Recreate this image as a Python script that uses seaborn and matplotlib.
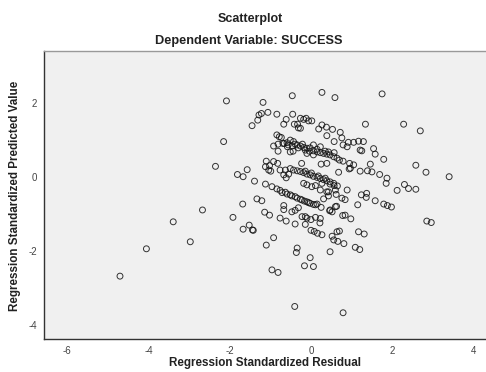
import matplotlib
matplotlib.use("Agg")
import matplotlib.pyplot as plt
import seaborn as sns
import pandas as pd
import numpy as np

# standardized residual / standardized predicted value
resid = [
    -2.08, -1.18, -2.15, -2.35, -1.81, -1.67, -1.57, -1.39, -2.67, -1.92,
    -1.68, -2.97, -1.33, -1.21, -1.14, -1.02, -1.52, -1.67, -1.44, -1.42,
    -0.92, -1.10, -0.96, -0.81, -0.40, 0.79, 0.47, -0.02, -0.16, 0.06,
    -0.34, -0.36, 1.09, 1.20, 2.85, 2.96, 3.40, 2.69, 2.28, 1.75,
    0.59, 0.27, -0.46, 1.34, 2.58, 2.83, 2.12, 2.30, 2.40, 2.58,
    1.79, 1.54, 1.58, 1.87, 1.85, 1.69, 1.46, 1.39, 1.50, 1.21,
    0.97, 0.68, 1.79, 1.88, 1.98, 1.58, 1.24, 1.37, 1.36, 1.15,
    0.89, 0.76, 0.84, 0.63, 0.47, 0.52, 0.78, 0.84, 0.98, 1.17,
    1.31, 0.70, 0.52, 0.56, 0.66, 0.81, 0.47, 0.57, 0.65, 0.62,
    0.43, 0.43, 0.60, 0.27,
    -1.06, -1.22, -1.28, -0.84, -0.45, -1.31, -1.45, -0.67, -0.61, -0.41,
    -0.33, -0.31, -0.26, -0.18, -0.12, -0.06, 0.02, -0.26, 0.19, 0.27,
    0.38, 0.53, 0.72, 0.39, 0.76, 0.57, 0.92, 1.05, 1.17, 1.29,
    0.79, 0.89, 1.21, 1.25, -0.84, -0.78, -0.73, -0.92, -0.81, -0.69,
    -0.58, -0.51, -0.43, -0.39, -0.44, -0.81, -1.10, -1.02, -0.92, -0.82,
    -1.12, -1.04,
    -0.66, -0.59, -0.34, -0.26, -0.18, -0.10, -0.02, 0.06, 0.15, 0.23,
    0.31, 0.39, 0.47, 0.56, 0.64, 0.70, 0.06, 0.23, 0.15, -0.21,
    -0.31, -0.10, 0.06, 0.79, 0.95, 1.05, 0.25, 0.39, -0.23, 0.57,
    0.94, -0.51, -0.56, -0.46, -0.14, -0.04, 0.35, 0.43,
    -0.76, -0.63, -0.51, -0.43, -0.34, -0.26, -0.18, -0.10, -0.02, 0.06,
    0.15, 0.23, 0.31, 0.39, 0.47, 0.56, -0.67, -0.61, -0.55, -0.14,
    0.01, 0.18, 0.35, -0.99,
    -1.12, -0.96, -0.84, -0.76, -0.71, -0.63, -0.59, -0.51, -0.47, -0.39,
    -0.34, -0.22, -0.26, -0.16, -0.10, -0.06, -0.02, 0.06, 0.11, 0.15,
    0.25, 0.31, -0.18, -0.10, 0.02, 0.11, 0.23, 0.39,
    -0.76, -0.67, -0.67, -0.61, -0.47, -0.39, -0.31, -0.39, -0.14, -0.10,
    0.00, -0.14, 0.22, 0.23, 0.00, 0.08, 0.16, 0.27, 0.46, 0.60,
    0.64, -0.22, 0.11,
    -4.70, -4.05, -3.39,
]
pred = [
    2.05, 2.01, 0.95, 0.28, 0.06, 0.00, 0.19, -0.12, -0.90, -1.10,
    -0.74, -1.76, -0.60, -0.65, -0.96, -1.04, -1.31, -1.42, -1.44, -1.45,
    -1.65, -1.85, -2.52, -2.59, -3.51, -3.68, -2.03, -2.19, -2.41, -2.43,
    -1.93, -2.05, -1.91, -1.97, -1.20, -1.24, 0.00, 1.24, 1.42, 2.24,
    2.14, 2.28, 2.19, 1.42, 0.31, 0.12, -0.37, -0.21, -0.32, -0.34,
    0.47, 0.76, 0.61, -0.04, -0.18, 0.06, 0.34, 0.16, 0.13, 0.15,
    0.23, 0.12, -0.74, -0.78, -0.82, -0.65, -0.49, -0.45, -0.56, -0.76,
    -0.36, -0.58, -0.62, -0.80, -0.90, -0.95, -1.05, -1.04, -1.14, -1.49,
    -1.55, -1.47, -1.61, -1.71, -1.75, -1.81, -0.20, -0.24, -0.25, -0.48,
    -0.41, -0.52, -0.36, -0.18,
    1.74, 1.71, 1.67, 1.69, 1.69, 1.53, 1.38, 1.42, 1.55, 1.42,
    1.42, 1.32, 1.58, 1.55, 1.58, 1.51, 1.51, 1.31, 1.29, 1.40,
    1.34, 1.28, 1.20, 1.11, 1.05, 0.95, 0.93, 0.93, 0.96, 0.95,
    0.86, 0.81, 0.72, 0.70, 1.13, 1.08, 1.06, 0.83, 0.88, 0.90,
    0.81, 0.99, 0.95, 0.88, 0.69, 0.69, 0.42, 0.30, 0.41, 0.36,
    0.27, 0.18,
    0.90, 0.92, 0.86, 0.83, 0.79, 0.77, 0.78, 0.70, 0.67, 0.65,
    0.63, 0.61, 0.59, 0.54, 0.50, 0.45, 0.86, 0.81, 0.74, 0.88,
    0.78, 0.63, 0.59, 0.42, 0.36, 0.32, 0.34, 0.36, 0.36, 0.65,
    0.21, 0.67, 0.86, 0.83, 0.72, 0.69, 0.69, 0.67,
    0.18, 0.18, 0.22, 0.18, 0.16, 0.14, 0.11, 0.07, 0.05, 0.01,
    -0.02, -0.05, -0.08, -0.11, -0.14, -0.18, 0.05, -0.03, 0.07, 0.15,
    0.10, 0.02, -0.04, 0.15,
    -0.20, -0.27, -0.33, -0.37, -0.43, -0.42, -0.47, -0.49, -0.52, -0.54,
    -0.58, -0.63, -0.61, -0.66, -0.68, -0.70, -0.72, -0.75, -0.76, -0.74,
    -0.83, -0.60, -0.18, -0.22, -0.27, -0.24, -0.36, -0.41,
    -1.12, -0.78, -0.89, -1.20, -0.95, -0.91, -0.84, -1.28, -1.08, -1.12,
    -1.16, -1.29, -1.25, -1.13, -1.45, -1.48, -1.53, -1.57, -0.92, -0.81,
    -1.49, -1.08, -1.10,
    -2.69, -1.95, -1.22,
]

df = pd.DataFrame({"resid": resid, "pred": pred})

sns.set_style("white")
plt.rcParams["font.family"] = ["Liberation Sans", "DejaVu Sans"]
plt.rcParams["axes.unicode_minus"] = False

fig = plt.figure(figsize=(4.86, 3.72), dpi=100)
ax = fig.add_axes([44 / 486, 33 / 372, 447 / 486, 288 / 372])
ax.set_facecolor("#f0f0f0")

sns.scatterplot(data=df, x="resid", y="pred", ax=ax, marker="o", s=18,
                facecolor="none", edgecolor="#111111", linewidth=0.7,
                alpha=0.85, legend=False)

ax.set_xlim(-6.57, 4.43)
ax.set_ylim(-4.39, 3.40)
ax.set_xticks([-6, -4, -2, 0, 2, 4])
ax.set_yticks([-4, -2, 0, 2])
ax.tick_params(axis="both", direction="out", length=3, width=0.8,
               labelsize=7, colors="#444444", pad=2)

for side in ["left", "bottom"]:
    ax.spines[side].set_color("#333333")
    ax.spines[side].set_linewidth(1.0)
ax.spines["top"].set_color("#999999")
ax.spines["top"].set_linewidth(1.0)
ax.spines["right"].set_visible(False)

ax.set_xlabel("")
ax.set_ylabel("")
fig.text(250 / 486, 1 - 19 / 372, "Scatterplot", ha="center", va="center",
         fontsize=9, fontweight="bold", color="#222222")
fig.text(249 / 486, 1 - 41 / 372, "Dependent Variable: SUCCESS", ha="center",
         va="center", fontsize=9.2, fontweight="bold", color="#222222")
fig.text(265 / 486, 1 - 363 / 372, "Regression Standardized Residual",
         ha="center", va="center", fontsize=8.4, fontweight="bold",
         color="#222222")
fig.text(15 / 486, 1 - 196 / 372, "Regression Standardized Predicted Value",
         ha="center", va="center", rotation=90, fontsize=8.4,
         fontweight="bold", color="#222222")

fig.savefig("out.png", dpi=100, facecolor="white")
